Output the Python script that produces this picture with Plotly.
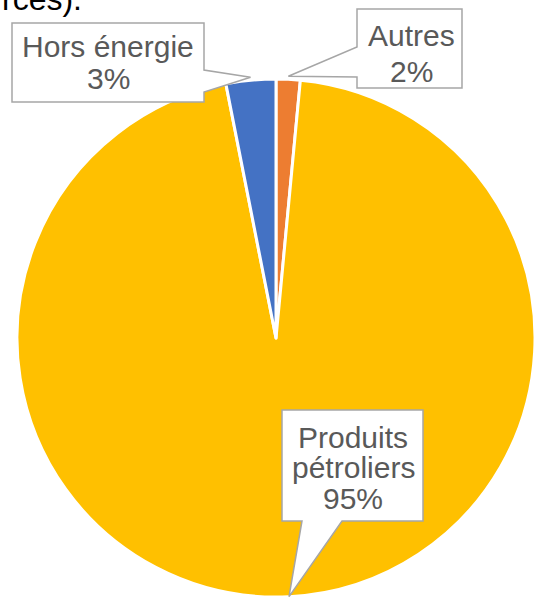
import plotly.graph_objects as go
import math

# ---- data ----
labels = ["Autres", "Produits pétroliers", "Hors énergie"]
values = [1.5, 95.4, 3.1]          # percent shares
colors = ["#ED7D31", "#FFC000", "#4472C4"]
label_lines = [["Autres"], ["Produits", "pétroliers"], ["Hors énergie"]]

W, H = 535, 601

def px(x):
    return x / W

def py(y):
    return 1 - y / H

# pie geometry (pixels)
CX, CY, R = 276, 338, 259
dom_x = [px(CX - R), min(1.0, px(CX + R))]
dom_y = [py(CY + R), py(CY - R)]

fig = go.Figure()
fig.add_trace(go.Pie(
    labels=labels, values=values, sort=False, direction="clockwise", rotation=0,
    marker=dict(colors=colors, line=dict(color="white", width=3)),
    textinfo="none", hoverinfo="label+percent", showlegend=False,
    domain=dict(x=dom_x, y=dom_y),
))

# slice mid angles (degrees clockwise from 12 o'clock)
total = sum(values)
mids = []
acc = 0.0
for v in values:
    mids.append((acc + v / 2) / total * 360.0)
    acc += v

def tip(i, r):
    a = math.radians(mids[i])
    return (CX + r * math.sin(a), CY - r * math.cos(a))

# callout boxes (pixel layout)
boxes = {
    0: dict(box=(357, 9, 462, 88), side="left", base=(47, 77), r=262,
            tx=411, ty=[36, 71]),
    1: dict(box=(282, 410, 423, 521), side="bottom", base=(302, 342), r=259,
            tx=353, ty=[437, 467, 498]),
    2: dict(box=(12, 23, 204, 102), side="right", base=(70, 92), r=262,
            tx=108, ty=[46, 78]),
}

def path_from(pts):
    return "M " + " L ".join(f"{px(x):.5f},{py(y):.5f}" for x, y in pts) + " Z"

shapes = []
annotations = []
for i, cfg in boxes.items():
    x0, y0, x1, y1 = cfg["box"]
    t = tip(i, cfg["r"])
    b0, b1 = cfg["base"]
    if cfg["side"] == "left":
        pts = [(x0, y0), (x1, y0), (x1, y1), (x0, y1), (x0, b1), t, (x0, b0)]
    elif cfg["side"] == "right":
        pts = [(x0, y0), (x1, y0), (x1, b0), t, (x1, b1), (x1, y1), (x0, y1)]
    else:  # bottom
        pts = [(x0, y0), (x1, y0), (x1, y1), (b1, y1), t, (b0, y1), (x0, y1)]
    shapes.append(dict(type="path", xref="paper", yref="paper", path=path_from(pts),
                       fillcolor="white", line=dict(color="#A6A6A6", width=1.5),
                       layer="above"))
    lines = label_lines[i] + [f"{values[i]:.0f}%"]
    for txt, yy in zip(lines, cfg["ty"]):
        annotations.append(dict(text=txt, x=px(cfg["tx"]), y=py(yy), xref="paper", yref="paper",
                                xanchor="center", yanchor="middle", showarrow=False,
                                font=dict(family="Liberation Sans, Arial", size=30, color="#595959")))

# clipped title fragment at top of the picture
annotations.append(dict(text="rcés).", x=0, y=py(-1), xref="paper", yref="paper",
                        xanchor="left", yanchor="middle", showarrow=False,
                        font=dict(family="Liberation Sans, Arial", size=32, color="black")))

fig.update_layout(
    width=W, height=H, margin=dict(l=0, r=0, t=0, b=0),
    paper_bgcolor="white", plot_bgcolor="white",
    shapes=shapes, annotations=annotations,
)
fig.write_html("out.html", config={"displayModeBar": False},
               post_script="document.body.style.margin='0';document.body.style.overflow='hidden';")
